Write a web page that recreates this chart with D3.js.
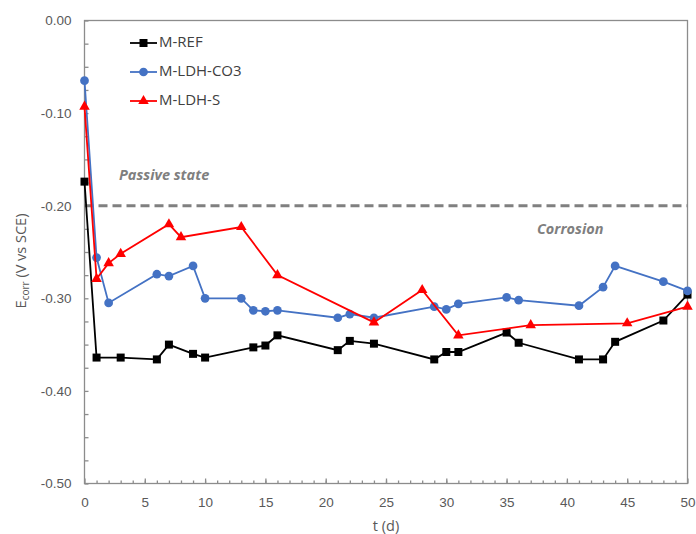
<!DOCTYPE html>
<html>
<head>
<meta charset="utf-8">
<script src="https://cdn.jsdelivr.net/npm/d3@7"></script>
<style>
  html, body { margin: 0; padding: 0; background: #fff; }
  svg { display: block; font-family: "Open Sans", "Liberation Sans", sans-serif; }
</style>
</head>
<body>
<svg id="chart" width="696" height="534"></svg>
<script>
// Corrosion potential over time for three mortar specimens
const days = {
  ref: [0, 1, 3, 6, 7, 9, 10, 14, 15, 16, 21, 22, 24, 29, 30, 31, 35, 36, 41, 43, 44, 48, 50],
  co3: [0, 1, 2, 6, 7, 9, 10, 13, 14, 15, 16, 21, 22, 24, 29, 30, 31, 35, 36, 41, 43, 44, 48, 50],
  s:   [0, 1, 2, 3, 7, 8, 13, 16, 24, 28, 31, 37, 45, 50]
};
const refValues = [-0.174, -0.364, -0.364, -0.366, -0.350, -0.360, -0.364, -0.353, -0.351, -0.340,
                   -0.356, -0.346, -0.349, -0.366, -0.358, -0.358, -0.337, -0.348, -0.366, -0.366,
                   -0.347, -0.324, -0.296];
const co3Values = [-0.065, -0.256, -0.305, -0.274, -0.276, -0.265, -0.300, -0.300, -0.313, -0.314,
                   -0.313, -0.321, -0.317, -0.321, -0.309, -0.312, -0.306, -0.299, -0.302, -0.308,
                   -0.288, -0.265, -0.282, -0.292];
const sValues = [-0.093, -0.279, -0.262, -0.252, -0.220, -0.234, -0.223, -0.275, -0.326, -0.291,
                 -0.340, -0.329, -0.327, -0.309];

const seriesNames = ["M-REF", "M-LDH-CO3", "M-LDH-S"];
const seriesColors = ["#000000", "#4472C4", "#FF0000"];
const xTicks = [0, 5, 10, 15, 20, 25, 30, 35, 40, 45, 50];
const yTicks = [0, -0.1, -0.2, -0.3, -0.4, -0.5];
const yTickLabels = ["0.00", "-0.10", "-0.20", "-0.30", "-0.40", "-0.50"];
const thresholdValue = -0.20;

const series = [
  { name: seriesNames[0], color: seriesColors[0], shape: d3.symbolSquare, size: 64,
    points: days.ref.map((t, i) => [t, refValues[i]]) },
  { name: seriesNames[1], color: seriesColors[1], shape: d3.symbolCircle, size: 60,
    points: days.co3.map((t, i) => [t, co3Values[i]]) },
  { name: seriesNames[2], color: seriesColors[2], shape: d3.symbolTriangle, size: 48,
    points: days.s.map((t, i) => [t, sValues[i]]) }
];

const svg = d3.select("#chart");
const plotL = 84.5, plotR = 687.5, plotT = 20.5, plotB = 483.5;
const x = d3.scaleLinear().domain([0, 50]).range([plotL, plotR]);
const y = d3.scaleLinear().domain([-0.5, 0]).range([plotB, plotT]);
const axisColor = "#8c8c8c";
const textColor = "#595959";

// Plot frame
svg.append("rect")
  .attr("x", plotL).attr("y", plotT)
  .attr("width", plotR - plotL).attr("height", plotB - plotT)
  .attr("fill", "none").attr("stroke", axisColor).attr("stroke-width", 1.3);

// Ticks point inward
const gx = svg.append("g").attr("transform", `translate(0,${plotB})`);
gx.call(d3.axisBottom(x).tickValues(d3.range(1, 50)).tickSize(-3).tickFormat(""));
gx.append("g").call(d3.axisBottom(x).tickValues(xTicks).tickSize(-5).tickPadding(14)
  .tickFormat(d => d));
gx.selectAll(".domain").remove();
gx.selectAll("line").attr("stroke", axisColor).attr("stroke-width", 1.3);
gx.selectAll("text").attr("fill", textColor).attr("font-size", 13.5);

const gy = svg.append("g").attr("transform", `translate(${plotL},0)`);
gy.call(d3.axisLeft(y).tickValues(d3.range(0, 21).map(i => -i * 0.025)).tickSize(-4).tickFormat(""));
gy.append("g").call(d3.axisLeft(y).tickValues(yTicks).tickSize(0).tickPadding(13)
  .tickFormat((d, i) => yTickLabels[i]));
gy.selectAll(".domain").remove();
gy.selectAll("line").attr("stroke", axisColor).attr("stroke-width", 1.3);
gy.selectAll("text").attr("fill", textColor).attr("font-size", 13.5);

// Axis titles
svg.append("text")
  .attr("x", (plotL + plotR) / 2).attr("y", 527)
  .attr("text-anchor", "middle").attr("dominant-baseline", "middle")
  .attr("fill", textColor).attr("font-size", 14.5)
  .text("t (d)");

const yTitle = svg.append("text")
  .attr("transform", `translate(26,261) rotate(-90)`)
  .attr("text-anchor", "middle")
  .attr("fill", textColor).attr("font-size", 14.5);
yTitle.append("tspan").text("E");
yTitle.append("tspan").attr("font-size", 10).attr("dy", 3).text("corr");
yTitle.append("tspan").attr("dy", -3).text(" (V vs SCE)");

// Passive / corrosion threshold
svg.append("line")
  .attr("x1", plotL).attr("x2", plotR)
  .attr("y1", y(thresholdValue)).attr("y2", y(thresholdValue))
  .attr("stroke", "#808080").attr("stroke-width", 3)
  .attr("stroke-dasharray", "9,5");

svg.append("text")
  .attr("x", 119).attr("y", 176).attr("dominant-baseline", "middle")
  .attr("font-weight", "bold").attr("font-style", "italic")
  .attr("font-size", 14.5).attr("fill", "#7f7f7f")
  .text("Passive state");
svg.append("text")
  .attr("x", 537).attr("y", 230).attr("dominant-baseline", "middle")
  .attr("font-weight", "bold").attr("font-style", "italic")
  .attr("font-size", 14.5).attr("fill", "#7f7f7f")
  .text("Corrosion");

// Series lines and markers
const line = d3.line().x(d => x(d[0])).y(d => y(d[1]));
series.forEach(s => {
  const g = svg.append("g");
  g.append("path").datum(s.points)
    .attr("d", line).attr("fill", "none")
    .attr("stroke", s.color).attr("stroke-width", 1.8);
  g.selectAll("path.m").data(s.points).join("path")
    .attr("class", "m")
    .attr("transform", d => `translate(${x(d[0])},${y(d[1])})`)
    .attr("d", d3.symbol().type(s.shape).size(s.size))
    .attr("fill", s.color);
});

// Legend
const legend = svg.append("g");
series.forEach((s, i) => {
  const ly = 43 + i * 29;
  legend.append("line")
    .attr("x1", 130).attr("x2", 157).attr("y1", ly).attr("y2", ly)
    .attr("stroke", s.color).attr("stroke-width", 1.8);
  legend.append("path")
    .attr("transform", `translate(143.5,${ly})`)
    .attr("d", d3.symbol().type(s.shape).size(s.size))
    .attr("fill", s.color);
  legend.append("text")
    .attr("x", 159).attr("y", ly).attr("dominant-baseline", "middle")
    .attr("font-size", 15).attr("fill", "#404040")
    .text(s.name);
});
</script>
</body>
</html>
